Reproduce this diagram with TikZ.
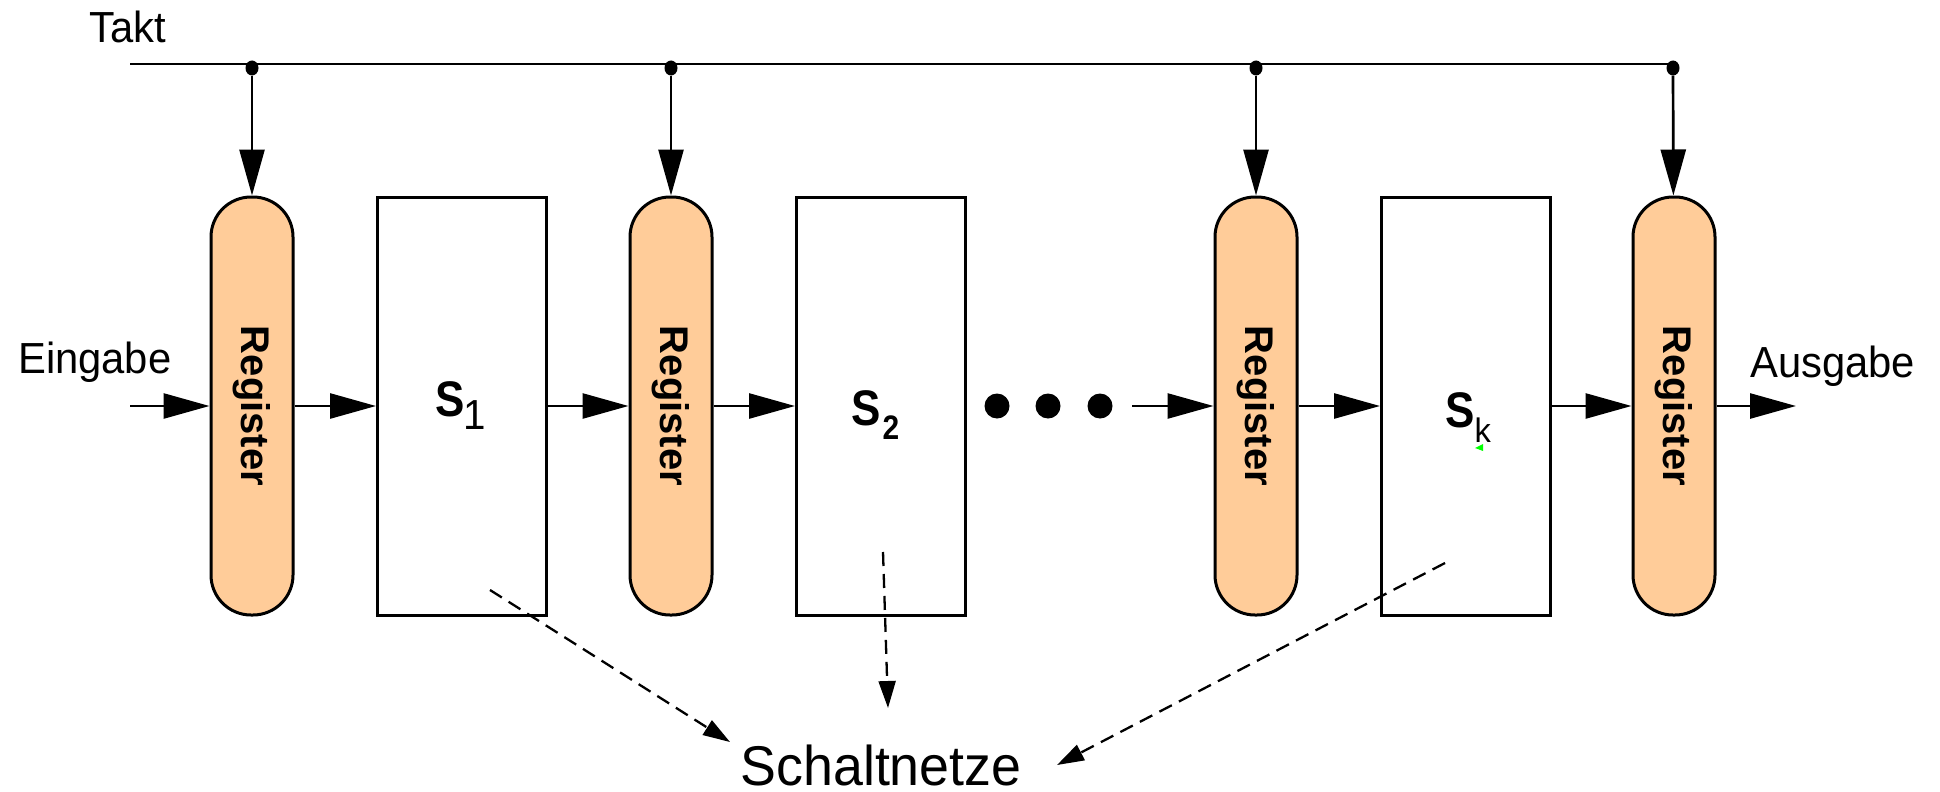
\documentclass[tikz,border=0pt]{standalone}
\usepackage{fontspec}
\setmainfont{Liberation Sans}
\newfontfamily\lblfont{Liberation Sans}[FakeStretch=0.96]
\newfontfamily\symfont{Liberation Sans}[FakeStretch=0.88]
\usetikzlibrary{arrows.meta,shapes.geometric}
\definecolor{regfill}{HTML}{FFCC99}
\newcommand\lblsize{\fontsize{43.5}{50}\selectfont}
\newcommand\bigS{{\symfont\bfseries\fontsize{50}{56}\selectfont S}}

\begin{document}
\begin{tikzpicture}[x=1pt,y=-1pt,
  reg/.style={draw, line width=3pt, fill=regfill, rounded corners=40pt,
    minimum width=82pt, minimum height=418pt, inner sep=0pt,
    font=\fontsize{40}{46}\selectfont\bfseries},
  comb/.style={draw, line width=3pt, fill=white, minimum width=169pt,
    minimum height=418pt, inner sep=0pt},
  sig/.style={line width=2.7pt, -{Triangle[length=46pt,width=25pt]}},
  hint/.style={line width=2.3pt, dash pattern=on 14pt off 8pt,
    -{Triangle[length=27pt,width=17pt]}},
  tap/.style={ellipse, fill, inner sep=0pt, minimum width=13pt, minimum height=15pt},
  dotmark/.style={circle, fill, inner sep=0pt, minimum size=25pt},
  txt/.style={inner sep=0pt, font=\lblfont\lblsize}]
\useasboundingbox (0,0) rectangle (1940,792);

% registers and combinational blocks
\node[reg] (r1) at (252,406) {\rotatebox{-90}{Register}};
\node[comb] (s1) at (462,406) {};
\node[reg] (r2) at (671,406) {\rotatebox{-90}{Register}};
\node[comb] (s2) at (881,406) {};
\node[reg] (r3) at (1256,406) {\rotatebox{-90}{Register}};
\node[comb] (sk) at (1466,406) {};
\node[reg] (r4) at (1674,406) {\rotatebox{-90}{Register}};

% block labels
\node[inner sep=0pt, anchor=base west] (l1) at (435,416)
  {\bigS\kern-1pt\raisebox{-13pt}{\lblfont\fontsize{42}{48}\selectfont 1}};
\node[inner sep=0pt, anchor=base west] (l2) at (851,425)
  {\bigS\kern2pt\raisebox{-14pt}{\symfont\bfseries\fontsize{34}{40}\selectfont 2}};
\node[inner sep=0pt, anchor=base west] (lk) at (1445,427)
  {\bigS\raisebox{-15pt}{\lblfont\fontsize{34}{40}\selectfont k}};
\fill[green] (1483,444) -- (1475,448) -- (1483,451) -- cycle;

% clock line
\node[txt, anchor=base west] (takt) at (89,43) {Takt};
\coordinate (tin) at (130,64);
\coordinate (tend) at (1673,64);
\draw[line width=2.7pt] (tin) -- (tend);
\node[tap] (t1) at (252,68) {};
\node[tap] (t2) at (671,68) {};
\node[tap] (t3) at (1256,68) {};
\node[tap] (t4) at (1673,68) {};
\draw[sig] (t1) -- (r1);
\draw[sig] (t2) -- (r2);
\draw[sig] (t3) -- (r3);
\draw[sig] (t4) -- (r4);

% data path
\node[txt, anchor=base west] (ein) at (18,373) {Eingabe};
\node[txt, anchor=base west] (aus) at (1750,377) {Ausgabe};
\coordinate (in) at (130,406);
\coordinate (out) at (1796,406);
\node[dotmark] (e1) at (997,406) {};
\node[dotmark] (e2) at (1048,406) {};
\node[dotmark] (e3) at (1100,406) {};
\coordinate (ein3) at (1132,406);
\draw[sig] (in) -- (r1);
\draw[sig] (r1) -- (s1);
\draw[sig] (s1) -- (r2);
\draw[sig] (r2) -- (s2);
\draw[sig] (ein3) -- (r3);
\draw[sig] (r3) -- (sk);
\draw[sig] (sk) -- (r4);
\draw[sig] (r4) -- (out);

% combinational networks
\node[inner sep=0pt, anchor=base, font=\lblfont\fontsize{56}{62}\selectfont]
  (netz) at (881,785) {Schaltnetze};
\coordinate (h1s) at (490,590);  \coordinate (h1e) at (730,742);
\coordinate (h2s) at (883,552);  \coordinate (h2e) at (888,708);
\coordinate (h3s) at (1445,563); \coordinate (h3e) at (1057,765);
\draw[hint] (h1s) -- (h1e);
\draw[hint] (h2s) -- (h2e);
\draw[hint] (h3s) -- (h3e);
\end{tikzpicture}
\end{document}
